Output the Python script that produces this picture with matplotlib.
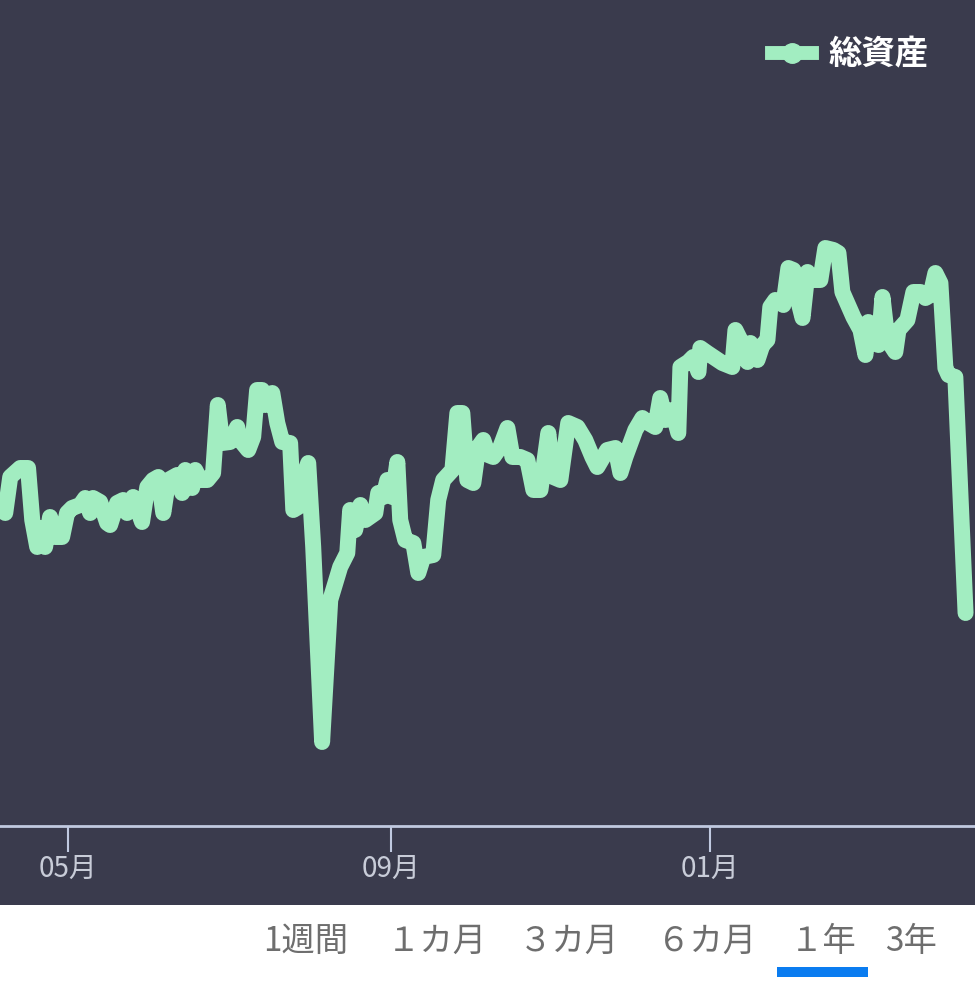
import matplotlib
matplotlib.use("Agg")
from matplotlib import pyplot as plt
from matplotlib.patches import Rectangle
from matplotlib.lines import Line2D
import pandas as pd

plt.rcParams['font.family'] = ['Noto Sans CJK JP', 'DejaVu Sans']

# days since 2024-05-01 and total assets (万円, estimated)
days = [-24.0, -22.1, -18.3, -15.3, -13.7, -11.8, -10.7, -8.8, -6.9, -5.0,
        -2.3, -0.4, 1.5, 4.6, 6.5, 8.4, 9.5, 12.2, 14.9, 16.0,
        18.7, 21.0, 22.5, 24.8, 28.2, 30.2, 32.4, 34.4, 36.3, 38.2,
        41.6, 43.5, 44.7, 47.3, 48.5, 50.4, 53.1, 55.3, 57.1, 58.8,
        61.8, 64.5, 65.6, 68.7, 70.6, 72.1, 74.0, 75.2, 77.9, 79.8,
        81.7, 84.7, 85.9, 87.8, 89.3, 91.6, 93.5, 96.9, 100.0, 103.8,
        106.5, 107.6, 109.5, 111.5, 113.4, 117.2, 118.3, 120.2, 121.8, 123.7,
        125.6, 126.7, 128.6, 131.7, 133.6, 135.5, 139.3, 141.2, 143.1, 146.6,
        148.5, 150.4, 152.3, 154.6, 156.5, 158.4, 160.3, 162.2, 164.9, 167.6,
        169.5, 172.5, 175.2, 177.5, 180.2, 183.2, 185.1, 187.8, 190.8, 194.3,
        197.3, 200.0, 201.9, 205.7, 208.8, 210.7, 212.6, 216.4, 219.1, 221.4,
        224.0, 225.9, 227.9, 230.5, 232.8, 233.6, 236.6, 238.5, 240.5, 241.2,
        243.9, 249.6, 253.4, 254.6, 256.5, 259.2, 260.3, 263.0, 264.9, 266.8,
        267.9, 269.8, 272.9, 274.8, 276.7, 277.5, 280.2, 282.1, 284.0, 287.0,
        288.9, 292.0, 293.9, 295.4, 299.6, 302.3, 304.2, 305.3, 307.3, 309.2,
        310.7, 312.6, 315.6, 316.8, 320.2, 322.5, 325.2, 327.1, 329.0, 330.9,
        332.8, 334.7, 335.9, 338.5, 342.4]
assets = [487, 523, 532, 532, 480, 453, 472, 453, 483, 463,
          463, 487, 492, 495, 502, 487, 502, 498, 477, 475,
          497, 500, 487, 503, 478, 513, 520, 523, 487, 520,
          525, 507, 530, 512, 530, 520, 520, 527, 595, 557,
          558, 573, 560, 550, 563, 610, 610, 595, 607, 577,
          558, 557, 490, 493, 520, 537, 453, 258, 400, 433,
          447, 490, 470, 495, 480, 487, 507, 503, 520, 503,
          538, 480, 460, 457, 427, 443, 445, 500, 520, 530,
          587, 587, 520, 517, 553, 560, 545, 543, 553, 572,
          543, 543, 540, 510, 510, 567, 523, 520, 577, 573,
          560, 543, 533, 550, 552, 527, 543, 570, 582, 577,
          573, 602, 580, 590, 567, 633, 638, 643, 628, 652,
          647, 637, 633, 670, 660, 638, 657, 640, 655, 660,
          693, 700, 695, 732, 730, 710, 682, 728, 720, 720,
          752, 750, 747, 708, 683, 670, 645, 678, 657, 655,
          703, 660, 648, 670, 680, 708, 708, 702, 705, 727,
          717, 632, 625, 623, 387]

tick_months = ["2024-05-01", "2024-09-01", "2025-01-01"]
tick_labels = ["05月", "09月", "01月"]
periods = ["1週間", "１カ月", "３カ月", "６カ月", "１年", "3年"]
period_x = [306, 437, 569, 707, 823, 911]
selected = "１年"

bg = "#3a3b4d"
green = "#a2edc1"

base = pd.Timestamp("2024-05-01")
dates = base + pd.to_timedelta(days, unit="D")

fig = plt.figure(figsize=(9.75, 10), dpi=100, facecolor="white")
fig.patches.append(Rectangle((0, 0.095), 1, 0.905, transform=fig.transFigure,
                             facecolor=bg, edgecolor="none", zorder=-10))

ax = fig.add_axes([0, 0.174, 1, 0.826])
ax.set_facecolor(bg)
ax.plot(dates, assets, color=green, lw=11.5, solid_joinstyle="round",
        solid_capstyle="round", label="総資産")
ax.set_xlim(base - pd.Timedelta(days=26), base + pd.Timedelta(days=346))
ax.set_ylim(174, 1000)

for s in ["top", "left", "right"]:
    ax.spines[s].set_visible(False)
ax.spines["bottom"].set_color("#c0c9e0")
ax.spines["bottom"].set_linewidth(2)
ax.set_yticks([])
ax.set_xticks(pd.to_datetime(tick_months))
ax.set_xticklabels(tick_labels)
ax.tick_params(axis="x", length=19, width=1.5, color="#c0c9e0",
               labelcolor="#c8ccd8", labelsize=20, pad=1)

handle = Line2D([], [], color=green, lw=10, marker="o", markersize=14,
                markerfacecolor=green, markeredgecolor=green)
leg = ax.legend([handle], ["総資産"], loc="upper right",
                bbox_to_anchor=(0.983, 0.99), frameon=False,
                handlelength=1.2, handletextpad=0.5,
                prop={"size": 24, "weight": "bold"})
for t in leg.get_texts():
    t.set_color("white")

for label, px in zip(periods, period_x):
    fig.text(px / 975, 0.059, label, ha="center", va="center",
             fontsize=24, color="#6e6e6e")
    if label == selected:
        fig.patches.append(Rectangle((777 / 975, 0.023), 91 / 975, 0.01,
                                     transform=fig.transFigure,
                                     facecolor="#0a7cf0", edgecolor="none"))

fig.savefig("out.png", dpi=100, facecolor=fig.get_facecolor())
